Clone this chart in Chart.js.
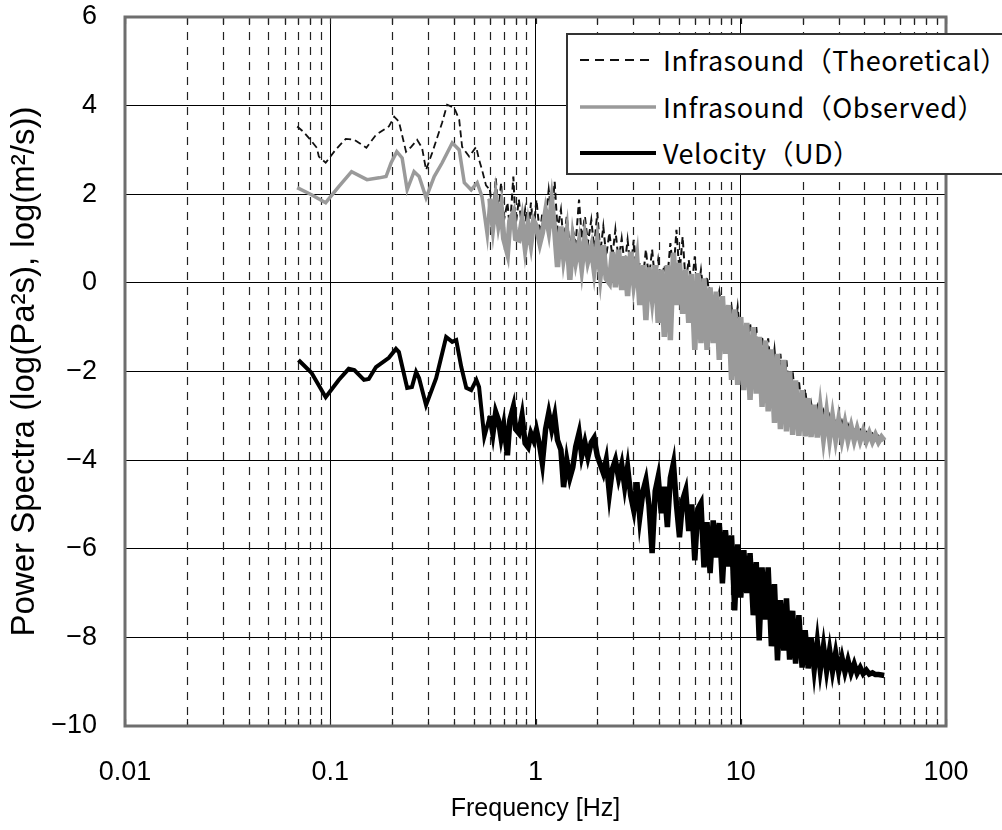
<!DOCTYPE html>
<html>
<head>
<meta charset="utf-8">
<script src="https://cdn.jsdelivr.net/npm/chart.js@4.4.1/dist/chart.umd.min.js"></script>
<style>
  body{margin:0;background:#fff;overflow:hidden}
  #wrap{position:relative;width:1002px;height:830px;overflow:hidden}
  #legend{position:absolute;left:566px;top:33px;width:470px;height:138px;border:2px solid #333;background:#fff;
    font-family:"Noto Sans CJK JP","Noto Sans",sans-serif;font-size:27px;color:#000}
  #legend .t{position:absolute;left:95px;line-height:1;letter-spacing:0.5px;white-space:nowrap}
  #legend svg{position:absolute;left:0}
</style>
</head>
<body>
<div id="wrap">
  <canvas id="chart" width="1002" height="830"></canvas>
  <div id="legend"></div>
</div>
<script>
// values (log10 of power spectra)
const seriesNames = ["Infrasound（Theoretical）", "Infrasound（Observed）", "Velocity（UD）"];

const xTicks = [0.01, 0.1, 1, 10, 100];
const xTickLabels = ["0.01", "0.1", "1", "10", "100"];
const xMinor = [0.02,0.03,0.04,0.05,0.06,0.07,0.08,0.09, 0.2,0.3,0.4,0.5,0.6,0.7,0.8,0.9,
  2,3,4,5,6,7,8,9, 20,30,40,50,60,70,80,90];
const yTicks = [-10, -8, -6, -4, -2, 0, 2, 4, 6];
const yTickLabels = ["−10", "−8", "−6", "−4", "−2", "0", "2", "4", "6"];

// smooth part below 0.6 Hz
const theoFreqLow = [0.069,0.074,0.080,0.086,0.088,0.095,0.106,0.119,0.131,0.150,0.167,0.193,0.205,0.216,0.234,
  0.248,0.265,0.280,0.293,0.314,0.351,0.371,0.402,0.425,0.439,0.475,0.514,0.531,0.549,0.574];
const theoLow = [3.53,3.41,3.23,3.05,2.85,2.71,3.00,3.25,3.23,3.05,3.34,3.53,3.75,3.64,2.96,
  3.07,3.23,3.05,2.55,2.94,3.62,4.02,3.95,3.68,3.07,2.85,3.07,2.78,2.55,2.20];

const obsFreqLow = [0.069,0.081,0.095,0.110,0.127,0.151,0.173,0.187,0.198,0.211,0.224,0.237,
  0.256,0.271,0.293,0.321,0.351,0.393,0.425,0.450,0.486,0.520,0.549,0.582];
const obsLow = [2.15,1.99,1.81,2.17,2.51,2.33,2.37,2.40,2.71,2.96,2.82,2.10,
  2.51,2.40,1.92,2.40,2.71,3.16,3.00,2.26,2.10,2.26,1.94,1.08];

const velFreqLow = [0.070,0.081,0.095,0.110,0.123,0.131,0.146,0.154,0.167,0.193,0.209,0.216,0.237,0.250,
  0.262,0.271,0.293,0.328,0.367,0.393,0.411,0.435,0.460,0.486,0.515,0.531,0.563];
const velLow = [-1.74,-2.03,-2.58,-2.19,-1.94,-1.97,-2.19,-2.17,-1.90,-1.69,-1.49,-1.56,-2.37,-2.35,
  -2.01,-2.15,-2.76,-2.15,-1.22,-1.33,-1.29,-1.90,-2.37,-2.42,-2.19,-2.35,-3.48];

// noisy part, 0.6 - 50 Hz, shared frequency list
const freqHigh = [
  0.60,0.62,0.64,0.66,0.68,0.70,0.73,0.75,0.78,0.80,0.83,0.86,0.89,0.92,0.95,0.98,
  1.01,1.05,1.08,1.12,1.16,1.20,1.24,1.28,1.33,1.37,1.42,1.47,1.52,1.57,1.63,1.68,1.74,1.80,1.87,1.93,
  2.00,2.07,2.14,2.21,2.29,2.37,2.45,2.54,2.63,2.72,2.81,2.91,3.01,3.12,3.22,3.34,3.45,3.57,3.70,3.83,3.96,
  4.10,4.24,4.39,4.54,4.70,4.86,5.03,5.21,5.39,5.58,5.77,5.97,6.18,6.40,6.62,6.85,7.09,7.34,7.60,7.86,
  8.14,8.42,8.72,9.02,9.34,9.66,10.0,10.35,10.7,11.1,11.5,11.9,12.3,12.7,13.2,13.6,14.1,14.6,15.1,15.6,
  16.2,16.7,17.3,17.9,18.5,19.2,19.9,20.6,21.3,22.0,22.8,23.6,24.4,25.3,26.2,27.1,28.0,29.0,30.0,31.1,
  32.2,33.3,34.5,35.7,36.9,38.2,39.5,40.9,42.3,43.8,45.3,46.9,48.5,50.0];

const theoHigh = [
  2.1,1.5,2.37,1.6,2.26,1.4,1.81,1.2,2.4,1.3,1.88,1.2,1.65,1.0,1.81,1.2,
  1.88,1.1,1.58,1.4,2.1,1.5,2.28,1.2,1.65,0.9,1.5,0.8,1.2,0.9,1.88,1.0,1.5,0.9,1.42,0.8,
  1.58,0.7,1.27,0.6,1.13,0.6,1.2,0.5,1.0,0.4,0.97,0.3,0.97,0.2,0.45,0.1,0.75,0.1,0.75,0.0,0.52,
  0.0,0.4,0.1,0.9,0.2,1.2,0.2,1.04,0.0,0.52,-0.1,0.6,-0.2,0.29,-0.3,0.14,-0.4,-0.32,-0.6,-0.2,
  -0.8,-0.61,-0.9,-0.55,-1.1,-0.54,-1.3,-1.06,-1.5,-0.9,-1.6,-1.0,-1.8,-1.2,-1.9,-1.25,-2.1,-1.5,-2.3,-1.6,
  -2.4,-1.75,-2.6,-2.0,-2.7,-2.2,-2.9,-2.4,-3.0,-2.7,-3.1,-2.8,-3.2,-2.9,-3.25,-3.0,-3.3,-3.05,-3.35,-3.12,
  -3.4,-3.2,-3.42,-3.27,-3.45,-3.32,-3.47,-3.37,-3.5,-3.4,-3.52,-3.45,-3.54,-3.5];

const obsHigh = [
  1.9,1.3,1.88,1.36,1.7,1.0,0.68,1.4,1.58,1.0,0.97,1.4,0.81,1.3,0.9,1.4,
  1.27,0.9,1.13,1.6,1.2,1.81,1.2,0.36,1.27,0.6,1.1,0.07,0.95,0.5,0.9,0.36,1.0,0.5,0.8,0.3,
  0.9,0.2,0.85,0.1,0.0,0.7,-0.1,0.75,-0.16,0.6,-0.3,0.7,0.0,0.5,-0.5,0.4,-0.84,0.35,-0.32,0.4,-0.9,
  0.3,-1.22,0.4,-1.29,0.68,-0.5,0.45,-0.7,0.3,-0.9,0.2,-1.51,0.22,-1.36,0.1,-1.51,-0.1,-1.36,-0.2,-1.74,
  -0.3,-1.6,-0.5,-2.19,-0.6,-2.3,-0.77,-2.42,-0.9,-2.64,-1.0,-2.5,-1.22,-2.8,-1.3,-2.9,-1.5,-3.16,-1.6,-3.3,
  -1.74,-3.35,-2.0,-3.43,-2.2,-3.45,-2.42,-3.46,-2.6,-3.48,-2.75,-3.49,-2.85,-3.5,-2.95,-3.51,-3.03,-3.52,-3.1,-3.53,
  -3.18,-3.54,-3.25,-3.55,-3.3,-3.56,-3.35,-3.57,-3.39,-3.58,-3.43,-3.59,-3.48,-3.56];

const velHigh = [
  -3.0,-3.4,-2.92,-3.1,-3.5,-3.2,-3.89,-3.1,-2.8,-3.3,-3.39,-3.0,-3.62,-3.71,-3.4,-3.55,
  -3.32,-3.7,-4.07,-3.3,-2.94,-3.3,-3.0,-3.55,-3.77,-4.61,-4.0,-4.4,-4.16,-3.7,-3.39,-3.9,-3.6,-3.93,-3.6,-3.5,
  -3.9,-4.1,-4.29,-4.0,-4.75,-4.2,-4.0,-4.4,-4.1,-4.6,-4.16,-4.8,-5.13,-4.5,-5.29,-4.7,-4.45,-5.0,-6.1,-4.7,-4.38,
  -5.2,-4.6,-5.51,-4.4,-4.07,-5.0,-5.74,-4.9,-4.68,-5.6,-5.0,-6.26,-5.1,-4.97,-6.42,-5.4,-6.55,-5.36,-6.2,-5.42,
  -6.78,-5.58,-6.4,-5.7,-7.39,-5.9,-7.1,-6.03,-7.0,-6.1,-7.5,-6.3,-8.07,-6.42,-7.6,-6.42,-8.2,-6.8,-8.52,-7.16,
  -8.3,-7.12,-8.5,-7.4,-8.59,-7.5,-8.68,-7.84,-8.7,-8.0,-8.72,-8.1,-8.73,-8.2,-8.75,-8.29,-8.76,-8.35,-8.77,-8.45,
  -8.78,-8.52,-8.8,-8.6,-8.81,-8.68,-8.82,-8.74,-8.83,-8.8,-8.84,-8.84,-8.85,-8.86];

function pts(fLow, vLow, vHigh) {
  const a = fLow.map((f, i) => ({x: f, y: vLow[i]}));
  return a.concat(freqHigh.map((f, i) => ({x: f, y: vHigh[i]})));
}

// thicker stroke where the spectrum turns into a dense band
const bandWidth = w => ({borderWidth: c => c.p0.parsed.x >= freqHigh[0] ? w : undefined});

const axisFont = {family: "'Liberation Sans', Arial, sans-serif", size: 27};

const frame = {
  id: 'frame',
  beforeDatasetsDraw(chart) {
    const {ctx, chartArea: a, scales: {x}} = chart;
    ctx.save();
    ctx.strokeStyle = '#222';
    ctx.lineWidth = 1.2;
    ctx.setLineDash([8, 7]);
    xMinor.forEach(v => {
      const px = Math.round(x.getPixelForValue(v)) + 0.5;
      ctx.beginPath(); ctx.moveTo(px, a.top); ctx.lineTo(px, a.bottom); ctx.stroke();
    });
    ctx.setLineDash([]);
    xMinor.concat(xTicks).forEach(v => {
      const px = Math.round(x.getPixelForValue(v)) + 0.5;
      ctx.beginPath();
      ctx.moveTo(px, a.bottom); ctx.lineTo(px, a.bottom - 7);
      ctx.moveTo(px, a.top); ctx.lineTo(px, a.top + 7);
      ctx.stroke();
    });
    ctx.strokeStyle = '#6e6e6e';
    ctx.lineWidth = 3;
    ctx.strokeRect(a.left, a.top, a.right - a.left, a.bottom - a.top);
    ctx.restore();
  }
};

const chart = new Chart(document.getElementById('chart'), {
  type: 'line',
  data: {
    datasets: [
      {label: seriesNames[0], data: pts(theoFreqLow, theoLow, theoHigh), borderColor: '#111',
        borderWidth: 1.8, borderDash: [7, 4], order: 2, segment: bandWidth(2)},
      {label: seriesNames[1], data: pts(obsFreqLow, obsLow, obsHigh), borderColor: '#9a9a9a',
        borderWidth: 3.5, order: 1, segment: bandWidth(5.5)},
      {label: seriesNames[2], data: pts(velFreqLow, velLow, velHigh), borderColor: '#000',
        borderWidth: 4, order: 0, segment: bandWidth(5.5)}
    ]
  },
  options: {
    responsive: false,
    animation: false,
    layout: {padding: {top: 17, right: 56, left: 0, bottom: 0}},
    elements: {point: {radius: 0}, line: {tension: 0, fill: false}},
    plugins: {legend: {display: false}, tooltip: {enabled: false}},
    scales: {
      x: {
        type: 'logarithmic', min: 0.01, max: 100,
        afterBuildTicks: s => { s.ticks = xTicks.map(v => ({value: v})); },
        afterFit: s => { s.height = 104; s.paddingLeft = 0; s.paddingRight = 0; },
        grid: {color: '#000', lineWidth: 1, drawTicks: false},
        border: {display: false},
        ticks: {font: axisFont, color: '#000', padding: 30, maxRotation: 0,
          callback: (v, i) => xTickLabels[i]},
        title: {display: true, text: 'Frequency [Hz]', color: '#000',
          font: {family: "'Liberation Sans', Arial, sans-serif", size: 25},
          padding: {top: 0, bottom: 6}}
      },
      y: {
        min: -10, max: 6,
        afterBuildTicks: s => { s.ticks = yTicks.map(v => ({value: v})); },
        afterFit: s => { s.width = 125; s.paddingTop = 0; s.paddingBottom = 0; },
        grid: {color: '#000', lineWidth: 1, drawTicks: false},
        border: {display: false},
        ticks: {font: axisFont, color: '#000', padding: 28,
          callback: (v, i) => yTickLabels[i]},
        title: {display: true, text: 'Power Spectra (log(Pa²s), log(m²/s))', color: '#000',
          font: {family: "'Liberation Sans', Arial, sans-serif", size: 33},
          padding: {top: 5, bottom: 0}}
      }
    }
  },
  plugins: [frame]
});

// legend box drawn as html over the plot, rows taken from the datasets
const legend = document.getElementById('legend');
chart.data.datasets.forEach((ds, i) => {
  const y = 25 + i * 46.5;
  const dash = ds.borderDash ? 'stroke-dasharray="9,6"' : '';
  legend.insertAdjacentHTML('beforeend',
    `<svg style="top:${y - 5}px" width="92" height="10"><line x1="12" y1="5" x2="${ds.borderDash ? 84 : 88}" y2="5"
      stroke="${ds.borderColor}" stroke-width="${ds.borderWidth}" ${dash}/></svg>` +
    `<div class="t" style="top:${11 + i * 46.5}px">${ds.label}</div>`);
});
</script>
</body>
</html>
